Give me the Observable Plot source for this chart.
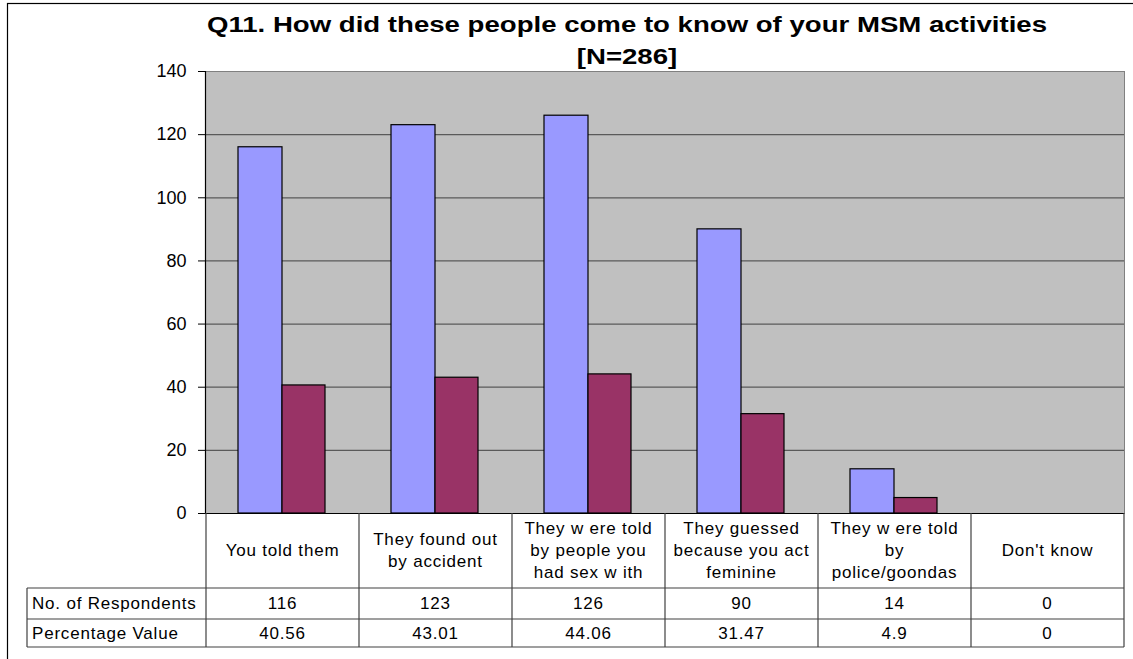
<!DOCTYPE html>
<html><head><meta charset="utf-8">
<script src="https://cdn.jsdelivr.net/npm/d3@7"></script>
<script src="https://cdn.jsdelivr.net/npm/@observablehq/plot@0.6"></script>
<style>body{margin:0;background:#fff;overflow:hidden;} #chart{width:1133px;height:659px;}</style>
</head><body><div id="chart"></div>
<script>
const titleLines = ["Q11. How did these people come to know of your MSM activities", "[N=286]"];
const categories = [
  "You told them",
  "They found out\nby accident",
  "They w ere told\nby people you\nhad sex w ith",
  "They guessed\nbecause you act\nfeminine",
  "They w ere told\nby\npolice/goondas",
  "Don't know"
];
const seriesNames = ["No. of Respondents", "Percentage Value"];
const respondents = [116, 123, 126, 90, 14, 0];
const percentages = [40.56, 43.01, 44.06, 31.47, 4.9, 0];
const yTicks = [0, 20, 40, 60, 80, 100, 120, 140];
const seriesColors = ["#9999ff", "#993366"];

const rows = categories.map((c, i) => ({category: c, respondents: respondents[i], percentage: percentages[i]}));

const chart = Plot.plot({
  width: 1133, height: 659,
  marginTop: 71, marginBottom: 146, marginLeft: 205, marginRight: 9,
  style: {fontFamily: "'Liberation Sans', Arial, sans-serif", fontSize: "18px", background: "#fff", color: "#000"},
  x: {domain: categories, padding: 0, axis: null},
  y: {domain: [0, 140], axis: null},
  marks: [
    Plot.frame({fill: "#c0c0c0", stroke: "#808080"}),
    Plot.ruleY(yTicks.filter(t => t > 0 && t < 140), {stroke: "#5a5a5a", strokeWidth: 1.2}),
    Plot.barY(rows, {x: "category", y: "respondents", fill: seriesColors[0], stroke: "#000", strokeWidth: 1.2, insetLeft: 32, insetRight: 77}),
    Plot.barY(rows, {x: "category", y: "percentage", fill: seriesColors[1], stroke: "#000", strokeWidth: 1.2, insetLeft: 76, insetRight: 34}),
    Plot.ruleY([0], {stroke: "#000", strokeWidth: 1.2}),
    Plot.frame({anchor: "left", stroke: "#000", strokeWidth: 1.2}),
    Plot.axisY({ticks: yTicks, tickSize: 7, tickPadding: 12, fontSize: 18, tickFormat: d => String(d)})
  ]
});
document.getElementById("chart").appendChild(chart);

const svg = d3.select(chart);
const xs = chart.scale("x"), ys = chart.scale("y");
const bw = xs.bandwidth;
const y0 = ys.apply(0);
const edges = categories.map(c => xs.apply(c));
const lastEdge = edges[edges.length - 1] + bw;
const headerH = 75, rowH = [31, 28];
const labelLeft = 27;
const rowTop = [y0 + headerH, y0 + headerH + rowH[0]];
const tableBottom = rowTop[1] + rowH[1];

const tg = svg.append("g").attr("stroke", "#404040").attr("stroke-width", 1.2);
[...edges, lastEdge].forEach(x => tg.append("line").attr("x1", x).attr("x2", x).attr("y1", y0).attr("y2", tableBottom));
tg.append("line").attr("x1", labelLeft).attr("x2", labelLeft).attr("y1", rowTop[0]).attr("y2", tableBottom);
[rowTop[0], rowTop[1], tableBottom].forEach(y => tg.append("line").attr("x1", labelLeft).attr("x2", lastEdge).attr("y1", y).attr("y2", y));

const txt = svg.append("g").attr("font-family", "'Liberation Sans', Arial, sans-serif").attr("font-size", 17).attr("letter-spacing", "0.8px").attr("fill", "#000");
categories.forEach((c, i) => {
  const lines = c.split("\n");
  const cx = edges[i] + bw / 2, cy = y0 + headerH / 2;
  lines.forEach((l, j) => {
    txt.append("text").attr("x", cx).attr("y", cy + (j - (lines.length - 1) / 2) * 22).attr("dy", "0.35em").attr("text-anchor", "middle").text(l);
  });
  [respondents[i], percentages[i]].forEach((v, r) => {
    txt.append("text").attr("x", cx).attr("y", rowTop[r] + rowH[r] / 2).attr("dy", "0.35em").attr("text-anchor", "middle").text(String(v));
  });
});
seriesNames.forEach((s, r) => {
  txt.append("text").attr("x", labelLeft + 5).attr("y", rowTop[r] + rowH[r] / 2).attr("dy", "0.35em").attr("text-anchor", "start").text(s);
});

const tt = svg.append("g").attr("font-family", "'Liberation Sans', Arial, sans-serif").attr("font-size", 22).attr("font-weight", "bold").attr("fill", "#000");
const t1 = tt.append("text").attr("x", 627).attr("y", 32).attr("text-anchor", "middle").text(titleLines[0]);
const w1 = t1.node().getComputedTextLength();
const stretch = 840 / w1;
t1.attr("textLength", 840).attr("lengthAdjust", "spacingAndGlyphs");
const t2 = tt.append("text").attr("x", 627).attr("y", 64).attr("text-anchor", "middle").text(titleLines[1]);
const w2 = t2.node().getComputedTextLength();
t2.attr("textLength", w2 * stretch).attr("lengthAdjust", "spacingAndGlyphs");

svg.append("rect").attr("x", 7.5).attr("y", 3.5).attr("width", 1300).attr("height", 900).attr("fill", "none").attr("stroke", "#000").attr("stroke-width", 1.2);
</script>
</body></html>
